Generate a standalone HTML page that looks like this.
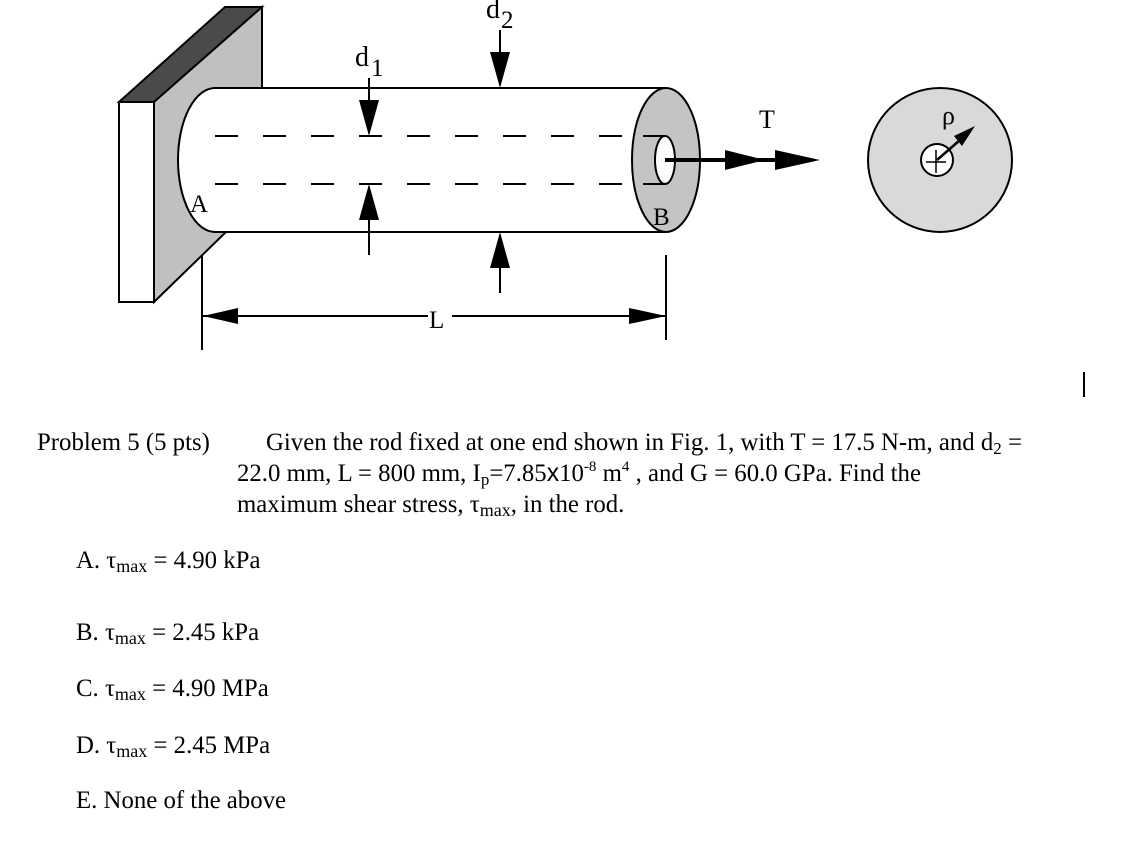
<!DOCTYPE html>
<html><head><meta charset="utf-8"><style>
html,body{margin:0;padding:0;background:#fff;}
svg{display:block;}
text{font-family:"Liberation Serif","Times New Roman",serif;fill:#000;}
</style></head><body>
<svg width="1144" height="851" viewBox="0 0 1144 851" xmlns="http://www.w3.org/2000/svg" font-family="Liberation Serif, serif">
<!-- wall -->
<polygon points="119,102 225,7 262,7 154,102" fill="#4a4a4a" stroke="#000" stroke-width="2"/>
<polygon points="154,102 262,7 262,100 226,232 154,302" fill="#c0c0c0" stroke="#000" stroke-width="2"/>
<rect x="119" y="102" width="35" height="200" fill="#fff" stroke="#000" stroke-width="2"/>
<!-- cylinder body -->
<rect x="215" y="88" width="451" height="144" fill="#fff"/>
<path d="M215,88 A37,72 0 0 0 215,232" fill="#fff" stroke="#000" stroke-width="2"/>
<line x1="215" y1="88" x2="666" y2="88" stroke="#000" stroke-width="2"/>
<line x1="215" y1="232" x2="666" y2="232" stroke="#000" stroke-width="2"/>
<ellipse cx="666" cy="160" rx="34" ry="72" fill="#c4c4c4" stroke="#000" stroke-width="2"/>
<!-- dashed -->
<line x1="215" y1="136" x2="645" y2="136" stroke="#000" stroke-width="2" stroke-dasharray="23,25"/>
<line x1="215" y1="184" x2="645" y2="184" stroke="#000" stroke-width="2" stroke-dasharray="23,25"/>
<line x1="643" y1="136" x2="665" y2="136" stroke="#000" stroke-width="2"/>
<line x1="643" y1="184" x2="665" y2="184" stroke="#000" stroke-width="2"/>
<ellipse cx="665" cy="160" rx="10" ry="24" fill="#fff" stroke="#000" stroke-width="2"/>
<!-- d1 arrows -->
<line x1="369" y1="78" x2="369" y2="110" stroke="#000" stroke-width="2"/>
<polygon points="359,100 379,100 369,136" fill="#000"/>
<line x1="369" y1="210" x2="369" y2="255" stroke="#000" stroke-width="2"/>
<polygon points="359,220 379,220 369,184" fill="#000"/>
<!-- d2 arrows -->
<line x1="500" y1="30" x2="500" y2="60" stroke="#000" stroke-width="2"/>
<polygon points="490,52 510,52 500,88" fill="#000"/>
<line x1="500" y1="260" x2="500" y2="293" stroke="#000" stroke-width="2"/>
<polygon points="490,268 510,268 500,232" fill="#000"/>
<text x="355" y="66" font-size="28">d</text><text x="371" y="76" font-size="25">1</text>
<text x="486" y="18" font-size="28">d</text><text x="501" y="28" font-size="25">2</text>
<text x="190" y="212" font-size="25">A</text>
<text x="653" y="225" font-size="25">B</text>
<!-- L dim -->
<line x1="202" y1="255" x2="202" y2="350" stroke="#000" stroke-width="2"/>
<line x1="666" y1="255" x2="666" y2="340" stroke="#000" stroke-width="2"/>
<line x1="203" y1="316" x2="428" y2="316" stroke="#000" stroke-width="2"/>
<line x1="452" y1="316" x2="666" y2="316" stroke="#000" stroke-width="2"/>
<polygon points="203,316 238,308 238,324" fill="#000"/>
<polygon points="666,316 629,308 629,324" fill="#000"/>
<text x="429" y="328" font-size="25">L</text>
<!-- T arrow -->
<line x1="665" y1="160" x2="790" y2="160" stroke="#000" stroke-width="4"/>
<polygon points="725,150 765,160 725,170" fill="#000"/>
<polygon points="775,150 820,160 775,170" fill="#000"/>
<text x="759" y="128" font-size="26">T</text>
<!-- section circle -->
<circle cx="940" cy="160" r="72" fill="#d9d9d9" stroke="#000" stroke-width="2"/>
<circle cx="937" cy="160" r="16" fill="#fff" stroke="#000" stroke-width="2"/>
<line x1="926" y1="162" x2="946" y2="162" stroke="#000" stroke-width="1.5"/>
<line x1="936" y1="150" x2="936" y2="173" stroke="#000" stroke-width="1.5"/>
<line x1="937" y1="160" x2="960" y2="140" stroke="#000" stroke-width="2.5"/>
<polygon points="975,126 954,136 962,146" fill="#000"/>
<text x="942" y="124" font-size="26">ρ</text>
<line x1="1084" y1="372" x2="1084" y2="397" stroke="#000" stroke-width="2"/>
<!-- text -->
<g font-size="24.8">
<text x="37" y="450">Problem 5 (5 pts)</text>
<text x="266" y="450">Given the rod fixed at one end shown in Fig. 1, with T = 17.5 N-m, and d<tspan font-size="17" dy="4">2</tspan><tspan dy="-4"> =</tspan></text>
<text x="237" y="481">22.0 mm, L = 800 mm,  I<tspan font-size="17" dy="4">p</tspan><tspan dy="-4">=7.85</tspan><tspan font-family="Liberation Sans, sans-serif">x</tspan>10<tspan font-size="15" dy="-10">-8</tspan><tspan dy="10"> m</tspan><tspan font-size="15" dy="-10">4</tspan><tspan dy="10"> , and G = 60.0 GPa.  Find the</tspan></text>
<text x="237" y="512">maximum shear stress, τ<tspan font-size="18" dy="4">max</tspan><tspan dy="-4">, in the rod.</tspan></text>
<text x="76" y="568">A. τ<tspan font-size="18" dy="4">max</tspan><tspan dy="-4"> = 4.90 kPa</tspan></text>
<text x="76" y="640">B. τ<tspan font-size="18" dy="4">max</tspan><tspan dy="-4"> = 2.45 kPa</tspan></text>
<text x="76" y="696">C. τ<tspan font-size="18" dy="4">max</tspan><tspan dy="-4"> = 4.90 MPa</tspan></text>
<text x="76" y="753">D. τ<tspan font-size="18" dy="4">max</tspan><tspan dy="-4"> = 2.45 MPa</tspan></text>
<text x="76" y="808">E. None of the above</text>
</g>
</svg>
</body></html>
